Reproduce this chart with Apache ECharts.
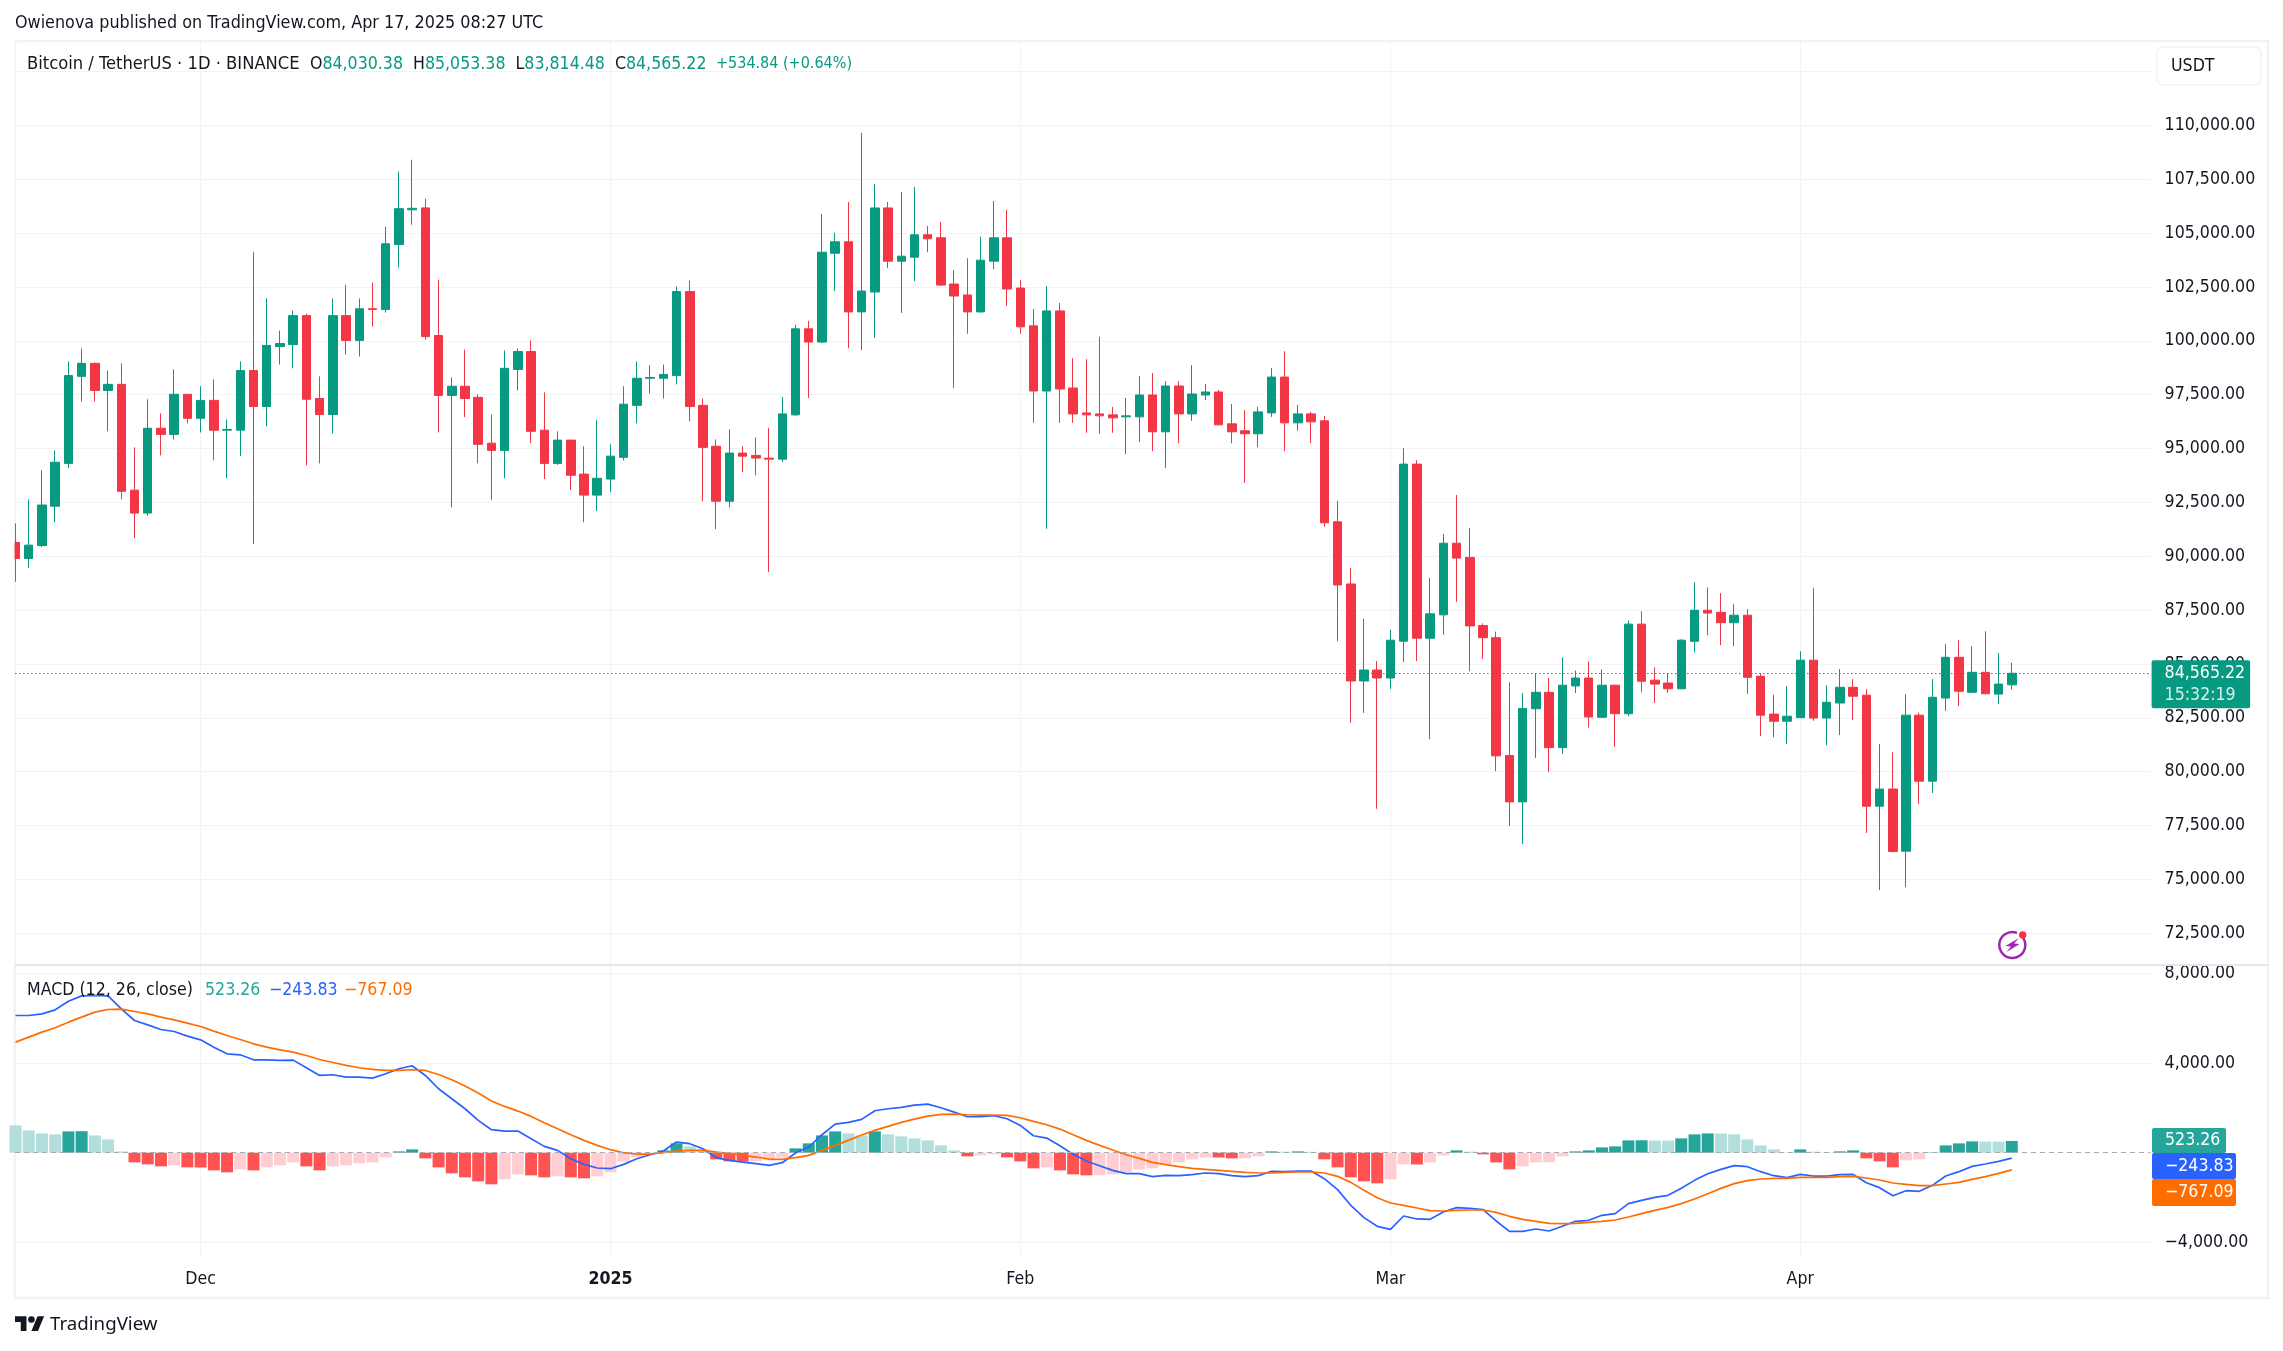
<!DOCTYPE html>
<html>
<head>
<meta charset="utf-8">
<title>BTCUSDT</title>
<script src="https://cdn.jsdelivr.net/npm/echarts@6/dist/echarts.min.js"></script>
<style>
  html, body { margin: 0; padding: 0; background: #fff; }
  #chart-container { width: 2283px; height: 1351px; }
</style>
</head>
<body>
<div id="chart-container"></div>
<script>
// daily candles, Nov 17 2024 (day 0) .. Apr 17 2025 (day 151)
const open = [90638,89894,90497,92323,94309,98351,98954,97695,97979,93068,92003,95940,95656,97518,96401,97234,95851,95851,98617,96950,99734,99822,101170,97323,96578,101170,100018,101489,101453,104468,106081,106170,100248,97465,97891,97376,95248,94912,98670,99503,95851,94309,95390,93812,92837,93581,94592,97004,98262,98262,98386,102287,97004,95106,92553,94788,94681,94553,94507,96562,100557,99942,104066,104597,101342,102265,106168,103697,103882,104921,104782,102635,102127,101342,103697,104782,102450,100695,97670,101388,97809,96654,96608,96562,96470,96470,97486,95777,97901,96608,97486,97624,96146,95823,95685,96654,98317,96192,96608,96285,91598,88711,84209,84717,84347,86056,94276,86194,87280,90605,89946,86781,86218,80750,78596,82921,83683,81114,83981,84345,82523,84014,82689,86848,84246,84113,83848,86052,87494,87394,86914,87262,84428,82672,82340,82506,85174,82490,83186,83915,83550,78397,79192,76308,82622,79557,83417,85307,83682,84611,83600,84030.38];
const high = [91525,92642,93990,94911,99043,99645,98990,98617,98954,95053,97287,96631,98670,97530,97891,98210,96347,99043,104131,101968,100478,101400,101259,98351,101968,102606,101968,102695,105301,107854,108404,106596,102837,98298,99592,97518,96578,99557,99645,100018,97607,95798,95400,95106,96312,95195,97891,99043,98865,98901,102517,102801,97323,95425,95886,95106,95514,95962,97393,100742,100926,105890,105013,106445,109654,107276,106445,106906,107137,105336,105521,103281,103835,104828,106491,106075,102819,101480,102542,101757,99194,99148,100187,96932,97347,98363,98502,98132,98132,98871,97994,97716,97070,96793,96932,98733,99518,97024,96700,96516,92567,89450,87095,85133,86587,95015,94461,88989,91044,92845,91305,86881,86500,84147,83650,84561,84345,85307,84693,85124,84743,84030,87013,87444,84843,84561,86152,88786,88554,88289,87775,87544,84577,83567,83964,85588,88538,84014,84760,84296,83832,81280,80899,83600,82738,84296,85919,86102,85820,86516,85505,85053.38];
const low = [88812,89450,90425,91578,94096,97181,97181,95798,92642,90834,91880,94681,95425,96170,95745,94450,93618,94646,90568,96029,98901,98724,94220,94309,95709,99362,99273,100656,101312,103404,105390,100053,95745,92270,96454,94309,92607,93618,97695,95248,93581,94238,93068,91578,92093,92979,94450,96170,97553,97323,97979,96259,92553,91259,92270,93900,93759,89266,94369,96516,97347,99900,102311,99656,99564,100141,103374,101296,102773,104112,102542,97809,100326,101320,103327,101619,100326,96192,91274,96192,96192,95731,95685,95731,94738,95292,94877,94091,95246,96285,97255,96080,95246,93399,95061,96470,94877,95823,95246,91367,86056,82269,82731,78275,83840,85086,85133,81507,86356,87881,84660,85224,80021,77469,76640,80634,79988,80833,83650,82042,82490,81148,82573,83683,83186,83650,83830,85538,86334,85870,85820,83600,81645,81595,81280,82480,82357,81230,81694,82390,77154,74503,76259,74635,78497,79010,82821,83036,83650,83590,83152,83814.48];
const close = [89894,90515,92376,94362,98386,98954,97695,97979,93014,92003,95940,95656,97518,96401,97234,95851,95886,98617,96950,99787,99876,101170,97287,96578,101170,100018,101489,101453,104503,106134,106152,100195,97465,97891,97323,95195,94912,98723,99503,95798,94309,95390,93759,92837,93618,94646,97057,98262,98298,98440,102287,96950,95053,92553,94788,94646,94557,94507,96608,100557,99942,104112,104597,101342,102311,106168,103697,103928,104921,104736,102588,102081,101342,103743,104782,102404,100649,97670,101388,97763,96608,96562,96516,96424,96516,97486,95777,97901,96608,97532,97624,96100,95777,95685,96700,98317,96192,96608,96239,91552,88665,84209,84717,84347,86102,94276,86194,87326,90605,89912,86765,86218,80733,78596,82937,83683,81114,84014,84345,82539,84014,82689,86848,84196,84064,83848,86102,87494,87361,86914,87262,84379,82622,82340,82572,85174,82490,83219,83915,83500,78397,79192,76292,82622,79557,83451,85307,83732,84611,83616,84064,84565.22];

// MACD pane
const histogram = [1218,995,861,817,950,960,772,594,59,-431,-520,-609,-564,-653,-660,-787,-876,-742,-787,-653,-564,-431,-609,-787,-609,-564,-475,-431,-208,59,148,-252,-653,-921,-1099,-1277,-1411,-1188,-965,-1010,-1099,-1054,-1099,-1143,-1054,-876,-400,-190,-60,104,416,282,148,-297,-386,-395,-380,-342,-223,193,416,772,950,861,772,950,817,728,639,549,327,104,-163,-119,-74,-208,-386,-698,-653,-787,-965,-1010,-1005,-965,-876,-742,-698,-520,-431,-297,-208,-215,-252,-250,-163,59,45,59,40,-297,-653,-1099,-1277,-1366,-1188,-520,-525,-431,-119,104,45,-74,-431,-742,-609,-431,-425,-163,59,104,238,282,549,555,545,540,639,817,861,855,817,594,327,148,15,148,45,15,59,104,-252,-386,-653,-342,-297,15,327,416,505,500,495,523.26];
const macdLine = [6118,6118,6192,6371,6757,6994,7009,6994,6415,5895,5702,5495,5405,5198,5034,4707,4410,4366,4143,4143,4113,4128,3787,3445,3475,3371,3371,3326,3519,3742,3876,3445,2851,2406,1960,1440,1025,965,965,624,282,104,-267,-520,-683,-713,-520,-267,-89,74,475,401,178,-223,-342,-416,-490,-564,-446,-15,252,802,1277,1351,1485,1871,1960,2020,2124,2168,2005,1812,1604,1604,1648,1515,1218,757,653,312,-74,-371,-579,-787,-936,-936,-1069,-1010,-1025,-980,-906,-936,-1025,-1069,-1025,-832,-846,-817,-817,-1158,-1648,-2346,-2896,-3282,-3416,-2822,-2955,-2970,-2643,-2450,-2480,-2539,-3044,-3505,-3505,-3401,-3490,-3282,-3059,-3015,-2792,-2718,-2272,-2124,-1990,-1901,-1589,-1233,-936,-743,-579,-624,-846,-1025,-1114,-965,-1040,-1040,-980,-965,-1337,-1559,-1916,-1693,-1723,-1455,-1040,-846,-609,-505,-386,-243.83];
const signalLine = [4930,5153,5376,5569,5821,6044,6267,6386,6400,6296,6192,6044,5925,5777,5628,5420,5227,5049,4856,4707,4589,4485,4336,4158,4024,3891,3787,3713,3668,3668,3698,3668,3490,3252,2970,2658,2302,2064,1856,1619,1337,1069,802,549,327,134,0,-59,-59,0,74,104,104,30,-45,-119,-193,-282,-297,-223,-119,104,327,549,787,995,1173,1351,1500,1634,1708,1723,1693,1678,1678,1663,1559,1396,1247,1054,802,549,327,119,-89,-252,-431,-535,-624,-698,-743,-787,-832,-876,-906,-906,-876,-861,-861,-906,-1054,-1322,-1678,-2005,-2242,-2346,-2465,-2584,-2599,-2569,-2554,-2554,-2658,-2836,-2970,-3059,-3148,-3163,-3148,-3104,-3059,-3000,-2866,-2718,-2569,-2435,-2272,-2064,-1827,-1589,-1381,-1247,-1173,-1143,-1143,-1099,-1099,-1099,-1069,-1054,-1129,-1218,-1351,-1411,-1470,-1470,-1396,-1322,-1188,-1069,-921,-767.09];

// axis ticks; 112,500 has a grid line but its label sits under the USDT box
const priceGrid = [72500,75000,77500,80000,82500,85000,87500,90000,92500,95000,97500,100000,102500,105000,107500,110000,112500];
const priceLabels = [72500,75000,77500,80000,82500,85000,87500,90000,92500,95000,97500,100000,102500,105000,107500,110000];
const macdTicks = [-4000,4000,8000];
const monthDays = [14,45,76,104,135];
const monthNames = ['Dec','2025','Feb','Mar','Apr'];

const lastPrice = close[close.length - 1];

const UP = '#089981', DOWN = '#f23645', INK = '#131722', GRID = '#f3f3f4', FRAME = '#f2f2f3';
const FONT = "'DejaVu Sans Condensed', 'Noto Sans', sans-serif";
const TEXT_SIZE = 17.6;

const days = open.map(function (_, i) { return i; });
const money = function (v) {
  return v.toLocaleString('en-US', { minimumFractionDigits: 2, maximumFractionDigits: 2 });
};
const signedMoney = function (v) {
  return money(v).replace('-', '\u2212');
};
const histColor = function (i) {
  const rising = i > 0 && histogram[i] > histogram[i - 1];
  if (histogram[i] >= 0) return rising ? '#26a69a' : '#b2dfdb';
  return rising ? '#ffcdd2' : '#ff5252';
};

var dom = document.getElementById('chart-container');
var myChart = echarts.init(dom, null, { renderer: 'canvas' });

const xRange = { min: -0.04, max: 161.5 };

function label(x, y, text, color, size, extra) {
  return {
    type: 'text', x: x, y: y, z: 20, silent: true,
    style: Object.assign({ text: text, fill: color, font: size + 'px ' + FONT, verticalAlign: 'middle' }, extra || {})
  };
}
function tag(x, y, w, h, color, text) {
  return [
    { type: 'rect', z: 19, silent: true, shape: { x: x, y: y, width: w, height: h, r: 2 }, style: { fill: color } },
    label(x + 13, y + h / 2, text, '#fff', TEXT_SIZE)
  ];
}

const headRich = {
  k: { fill: INK, font: TEXT_SIZE + 'px ' + FONT },
  v: { fill: UP, font: TEXT_SIZE + 'px ' + FONT }
};

var option = {
  animation: false,
  backgroundColor: '#fff',
  textStyle: { fontFamily: FONT },
  grid: [
    { left: 15, right: 132.4, top: 41, height: 924 },
    { left: 15, right: 132.4, top: 965, height: 291 }
  ],
  xAxis: [
    {
      type: 'value', gridIndex: 0, min: xRange.min, max: xRange.max,
      axisLine: { show: false }, axisLabel: { show: false },
      axisTick: { show: false, customValues: monthDays },
      splitLine: { show: true, lineStyle: { color: GRID, width: 1 } }
    },
    {
      type: 'value', gridIndex: 1, min: xRange.min, max: xRange.max,
      axisLine: { show: false },
      axisTick: { show: false, customValues: monthDays },
      axisLabel: {
        customValues: monthDays, margin: 14, fontSize: TEXT_SIZE, color: INK, fontFamily: FONT,
        formatter: function (v) {
          const name = monthNames[monthDays.indexOf(v)];
          return name === '2025' ? '{b|' + name + '}' : name;
        },
        rich: { b: { fontWeight: 'bold', fontSize: TEXT_SIZE, color: INK, fontFamily: FONT } }
      },
      splitLine: { show: true, lineStyle: { color: GRID, width: 1 } }
    }
  ],
  yAxis: [
    {
      type: 'value', gridIndex: 0, position: 'right', min: 71024, max: 113918,
      axisLine: { show: false },
      axisTick: { show: false, customValues: priceGrid },
      axisLabel: {
        customValues: priceLabels, margin: 14, fontSize: TEXT_SIZE, color: INK, fontFamily: FONT, formatter: money
      },
      splitLine: { show: true, lineStyle: { color: GRID, width: 1 } }
    },
    {
      type: 'value', gridIndex: 1, position: 'right', min: -4606, max: 8370,
      axisLine: { show: false },
      axisTick: { show: false, customValues: macdTicks },
      axisLabel: {
        customValues: macdTicks, margin: 14, fontSize: TEXT_SIZE, color: INK, fontFamily: FONT, formatter: signedMoney
      },
      splitLine: { show: true, lineStyle: { color: GRID, width: 1 } }
    }
  ],
  series: [
    {
      name: 'BTCUSDT',
      type: 'candlestick',
      xAxisIndex: 0, yAxisIndex: 0,
      barWidth: 9,
      encode: { x: 0, y: [1, 2, 3, 4] },
      itemStyle: { color: UP, color0: DOWN, borderColor: UP, borderColor0: DOWN, borderWidth: 1 },
      data: days.map(function (i) { return [i, open[i], close[i], low[i], high[i]]; }),
      markLine: {
        silent: true, symbol: 'none', animation: false,
        lineStyle: { color: UP, type: [1.5, 2.5], width: 1 },
        label: {
          position: 'end', distance: 1, offset: [0, 11], formatter: '{a|' + money(lastPrice) + '}\n{b|15:32:19}',
          backgroundColor: UP, borderRadius: 2, padding: [2, 5, 2, 13],
          rich: {
            a: { color: '#fff', fontSize: TEXT_SIZE, lineHeight: 22, fontFamily: FONT },
            b: { color: '#d5efe9', fontSize: TEXT_SIZE, lineHeight: 22, fontFamily: FONT }
          }
        },
        data: [{ yAxis: lastPrice }]
      }
    },
    {
      name: 'Histogram',
      type: 'bar',
      xAxisIndex: 1, yAxisIndex: 1,
      barWidth: 12,
      data: days.map(function (i) {
        return { value: [i, histogram[i]], itemStyle: { color: histColor(i) } };
      }),
      markLine: {
        silent: true, symbol: 'none', animation: false, label: { show: false },
        lineStyle: { color: '#a8abb3', type: [5, 4], width: 1 },
        data: [{ yAxis: 0 }]
      }
    },
    {
      name: 'MACD',
      type: 'line',
      xAxisIndex: 1, yAxisIndex: 1,
      showSymbol: false, symbol: 'none',
      lineStyle: { color: '#2962ff', width: 1.7 },
      data: days.map(function (i) { return [i, macdLine[i]]; })
    },
    {
      name: 'Signal',
      type: 'line',
      xAxisIndex: 1, yAxisIndex: 1,
      showSymbol: false, symbol: 'none',
      lineStyle: { color: '#ff6d00', width: 1.7 },
      data: days.map(function (i) { return [i, signalLine[i]]; })
    }
  ],
  graphic: [
    // the first candle is cut by the pane edge
    { type: 'rect', z: 10, silent: true, shape: { x: 0, y: 41, width: 14.5, height: 924 }, style: { fill: '#fff' } },
    // pane frame, under the series so the first wick stays visible
    { type: 'rect', z: 1, silent: true, shape: { x: 15, y: 41, width: 2253, height: 1257 }, style: { fill: 'none', stroke: FRAME, lineWidth: 2.5 } },
    { type: 'line', z: 11, silent: true, shape: { x1: 15, y1: 965, x2: 2268, y2: 965 }, style: { stroke: '#e6e6ea', lineWidth: 2 } },

    label(15, 23, 'Owienova published on TradingView.com, Apr 17, 2025 08:27 UTC', INK, 17.8),
    label(27, 64, 'Bitcoin / TetherUS · 1D · BINANCE', INK, 18.2),
    {
      type: 'text', x: 310, y: 64, z: 20, silent: true,
      style: {
        text: '{k|O}{v|84,030.38}{k|  H}{v|85,053.38}{k|  L}{v|83,814.48}{k|  C}{v|84,565.22}',
        verticalAlign: 'middle', rich: headRich
      }
    },
    label(716, 64, '+534.84 (+0.64%)', UP, 16),

    label(27, 990, 'MACD (12, 26, close)', INK, TEXT_SIZE),
    label(205, 990, '523.26', '#26a69a', TEXT_SIZE),
    label(269, 990, '\u2212243.83', '#2962ff', TEXT_SIZE),
    label(344, 990, '\u2212767.09', '#ff6d00', TEXT_SIZE),

    // currency button
    { type: 'rect', z: 19, silent: true, shape: { x: 2157, y: 47, width: 104, height: 38, r: 6 }, style: { fill: '#fff', stroke: FRAME, lineWidth: 1.5 } },
    label(2171, 66, 'USDT', INK, TEXT_SIZE),

    // MACD value tags
    ...tag(2152, 1128, 74, 25, '#26a69a', '523.26'),
    ...tag(2152, 1153, 84, 26, '#2962ff', '\u2212243.83'),
    ...tag(2152, 1179, 84, 27, '#ff6d00', '\u2212767.09'),

    // news flash icon
    { type: 'arc', z: 19, silent: true, shape: { cx: 2012.3, cy: 945, r: 13, startAngle: -0.6, endAngle: -1.2 }, style: { fill: 'none', stroke: '#9c27b0', lineWidth: 2.5 } },
    { type: 'polygon', z: 19, silent: true, shape: { points: [[2019, 938], [2005.5, 946], [2011, 946.5], [2006.5, 952], [2019.5, 944], [2014, 943.5]] }, style: { fill: '#9c27b0' } },
    { type: 'circle', z: 20, silent: true, shape: { cx: 2022.7, cy: 935, r: 3.7 }, style: { fill: '#f23645' } },

    // TradingView logo
    {
      type: 'group', x: 15, y: 1313, scaleX: 0.82, scaleY: 0.82, z: 20, silent: true,
      children: [
        { type: 'polygon', shape: { points: [[0, 4], [14, 4], [14, 22], [7, 22], [7, 11], [0, 11]] }, style: { fill: INK } },
        { type: 'polygon', shape: { points: [[27.5, 4], [35.5, 4], [28, 22], [20, 22]] }, style: { fill: INK } },
        { type: 'circle', shape: { cx: 20, cy: 8, r: 4 }, style: { fill: INK } }
      ]
    },
    label(50, 1325, 'TradingView', INK, 18.7, { font: "18.7px 'Noto Sans', sans-serif" })
  ]
};

if (option && typeof option === 'object') {
  myChart.setOption(option);
}

window.addEventListener('resize', myChart.resize);
</script>
</body>
</html>
